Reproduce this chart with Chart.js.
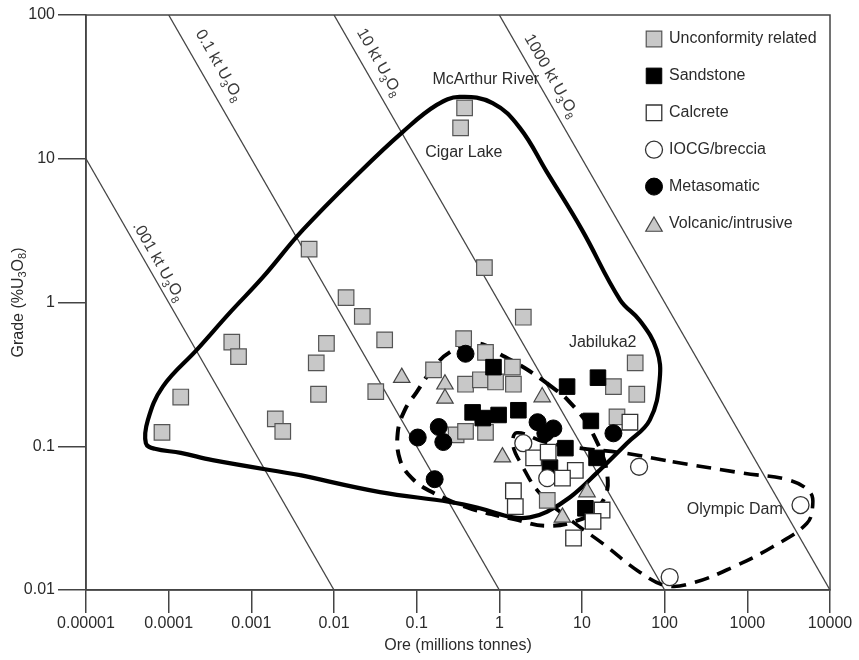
<!DOCTYPE html>
<html><head><meta charset="utf-8">
<script src="https://cdn.jsdelivr.net/npm/chart.js@4.4.1/dist/chart.umd.min.js"></script>
<style>html,body{margin:0;padding:0;background:#fff;}#wrap{width:859px;height:660px;}</style>
</head><body><div id="wrap"><canvas id="c" width="859" height="660"></canvas></div>
<script>
// ---------- DATA ----------
const xTickValues = [0.00001, 0.0001, 0.001, 0.01, 0.1, 1, 10, 100, 1000, 10000];
const xTickLabels = ['0.00001', '0.0001', '0.001', '0.01', '0.1', '1', '10', '100', '1000', '10000'];
const yTickValues = [0.01, 0.1, 1, 10, 100];
const yTickLabels = ['0.01', '0.1', '1', '10', '100'];

const seriesNames = ['Unconformity related', 'Sandstone', 'Calcrete', 'IOCG/breccia', 'Metasomatic', 'Volcanic/intrusive'];

// [ore (Mt), grade (%U3O8)]
const unconformity = [[0.000083,0.125],[0.00014,0.22],[0.00058,0.53],[0.0007,0.42],[0.00195,0.155],[0.0024,0.127],
  [0.005,2.35],[0.0061,0.38],[0.0081,0.52],[0.0065,0.23],[0.014,1.08],[0.022,0.8],[0.041,0.55],[0.032,0.24],
  [0.38,22.6],[0.34,16.4],[0.66,1.75],[1.95,0.79],[0.37,0.56],[0.68,0.45],[0.16,0.34],[1.44,0.355],
  [0.39,0.27],[0.59,0.29],[0.9,0.28],[1.48,0.27],[0.3,0.12],[0.39,0.127],[0.68,0.125],[3.8,0.042],
  [44,0.38],[24,0.26],[46,0.23],[26.5,0.16]];
const sandstone = [[0.85,0.355],[6.6,0.26],[15.6,0.3],[0.475,0.172],[0.63,0.157],[0.98,0.165],[1.7,0.178],
  [12.8,0.15],[6.3,0.097],[15,0.083],[11,0.037],[4.1,0.071]];
const calcrete = [[38,0.147],[2.6,0.083],[3.9,0.091],[8.3,0.068],[5.8,0.06],[1.48,0.049],[1.56,0.038],
  [17.5,0.036],[13.6,0.03],[7.9,0.023]];
const iocg = [[1.95,0.105],[3.8,0.06],[49,0.072],[4400,0.039],[115,0.0123]];
const metasomatic = [[0.39,0.44],[0.185,0.136],[0.103,0.115],[0.21,0.107],[0.165,0.059],[2.9,0.147],
  [4.5,0.133],[3.6,0.123],[24,0.123]];
const volcanic = [[0.066,0.3],[0.22,0.27],[0.22,0.215],[3.3,0.22],[1.09,0.084],[5.8,0.032],[11.5,0.048]];

// envelopes
const unconformityEnvelope = [[0.0039,0.063],[0.036,0.048],[0.25,0.041],[0.58,0.037],[1.46,0.032],[2.34,0.032],
  [3.75,0.035],[7.1,0.044],[15,0.065],[35,0.105],[66,0.152],[87,0.29],[80,0.47],[50,0.75],[29,1.04],[10,3.2],
  [3.75,8.1],[1.77,16.4],[0.83,24.4],[0.33,26.9],[0.175,23.7],[0.068,15.4],[0.0206,8.1],[0.0042,3.2],
  [0.00138,1.5],[0.00055,0.85],[0.00022,0.47],[0.000085,0.26],[0.000056,0.152],[0.000053,0.105],
  [0.000068,0.096],[0.00014,0.09],[0.00034,0.08],[0.0039,0.063]];
const sandstoneEnvelope = [[3.75,0.275],[6.7,0.21],[13.2,0.126],[20.5,0.058],[15.5,0.037],[8.2,0.03],[3.55,0.028],
  [1.54,0.031],[0.44,0.037],[0.153,0.048],[0.0875,0.06],[0.063,0.08],[0.059,0.124],[0.072,0.179],[0.1,0.238],
  [0.153,0.34],[0.25,0.45],[0.535,0.52],[1.07,0.43],[2.03,0.35],[3.75,0.275]];
const iocgEnvelope = [[125,0.078],[880,0.065],[3260,0.058],[5690,0.048],[6180,0.039],[5230,0.029],[2030,0.02],
  [665,0.0144],[219,0.0112],[106,0.0107],[50,0.0133],[17.9,0.021],[7.1,0.031],[3.09,0.047],[1.87,0.074],
  [1.46,0.102],[1.63,0.124],[3.55,0.107],[9.4,0.097],[31,0.09],[125,0.078]];

// contained-metal reference lines (ore x grade = constant)
const tonnageLines = [
  [[0.00001, 10], [0.01, 0.01]],
  [[0.0001, 100], [1, 0.01]],
  [[0.01, 100], [100, 0.01]],
  [[1, 100], [10000, 0.01]]
];
const tonnageLineNames = ['.001 kt U', '0.1 kt U', '10 kt U', '1000 kt U'];

const siteNames = ['McArthur River', 'Cigar Lake', 'Jabiluka2', 'Olympic Dam'];
const siteLabelOre = [0.687, 0.372, 17.8, 705];
const siteLabelGrade = [35.3, 11.1, 0.523, 0.036];

// ---------- STYLE ----------
const FONT = '"Liberation Sans", Arial, Helvetica, sans-serif';
const TXT = '#2b2b2b';
const styles = [
  {pointStyle:'rect', r:11, bg:'#c8c8c8', bd:'#555', bw:1.2, order:6},
  {pointStyle:'rect', r:11, bg:'#000', bd:'#000', bw:1, order:5},
  {pointStyle:'rect', r:11, bg:'#fff', bd:'#333', bw:1.3, order:3},
  {pointStyle:'circle', r:8.5, bg:'#fff', bd:'#333', bw:1.3, order:4},
  {pointStyle:'circle', r:8.5, bg:'#000', bd:'#000', bw:1, order:1},
  {pointStyle:'triangle', r:9.5, bg:'#c8c8c8', bd:'#444', bw:1.2, order:2}
];
const seriesData = [unconformity, sandstone, calcrete, iocg, metasomatic, volcanic];
const lineLabelPos = [{along:81, perp:7}, {along:29, perp:14}, {along:26, perp:11}, {along:32, perp:10}];

function pts(a){ return a.map(p => ({x:p[0], y:p[1]})); }

const datasets = [];
tonnageLines.forEach((l, i) => datasets.push({
  label: tonnageLineNames[i] + '3O8', data: pts(l), showLine: true, borderColor: '#444',
  borderWidth: 1.3, pointRadius: 0, order: 10
}));
datasets.push({label:'env1', data: pts(unconformityEnvelope), showLine:true, borderColor:'#000', borderWidth:4.2,
  pointRadius:0, tension:0.4, order:9});
datasets.push({label:'env2', data: pts(sandstoneEnvelope), showLine:true, borderColor:'#000', borderWidth:4,
  borderDash:[14,9], pointRadius:0, tension:0.4, order:9});
datasets.push({label:'env3', data: pts(iocgEnvelope), showLine:true, borderColor:'#000', borderWidth:3.6,
  borderDash:[15,9], pointRadius:0, tension:0.4, order:9});
seriesData.forEach((d, i) => {
  const s = styles[i];
  datasets.push({label: seriesNames[i], data: pts(d), showLine:false, pointStyle: s.pointStyle,
    pointRadius: s.r, pointBackgroundColor: s.bg, pointBorderColor: s.bd, pointBorderWidth: s.bw,
    pointHoverRadius: s.r, order: s.order});
});

function drawRich(ctx, parts, x, y, size, subSize, subDy) {
  let cx = x;
  parts.forEach(p => {
    ctx.font = (p.sub ? subSize : size) + 'px ' + FONT;
    ctx.fillText(p.t, cx, y + (p.sub ? subDy : 0));
    cx += ctx.measureText(p.t).width;
  });
  return cx - x;
}
function richWidth(ctx, parts, size, subSize) {
  let w = 0;
  parts.forEach(p => { ctx.font = (p.sub ? subSize : size) + 'px ' + FONT; w += ctx.measureText(p.t).width; });
  return w;
}
function marker(ctx, style, r, x, y) {
  ctx.beginPath();
  if (style === 'rect') { const s = Math.SQRT1_2 * r; ctx.rect(x - s, y - s, 2 * s, 2 * s); }
  else if (style === 'circle') { ctx.arc(x, y, r, 0, Math.PI * 2); }
  else {
    let a = 0;
    ctx.moveTo(x + Math.sin(a) * r, y - Math.cos(a) * r);
    a += 2 * Math.PI / 3; ctx.lineTo(x + Math.sin(a) * r, y - Math.cos(a) * r);
    a += 2 * Math.PI / 3; ctx.lineTo(x + Math.sin(a) * r, y - Math.cos(a) * r);
    ctx.closePath();
  }
  ctx.fill(); ctx.stroke();
}

const decor = {
  id: 'decor',
  afterDatasetsDraw(chart) {
    const {ctx, chartArea: a, scales: {x, y}} = chart;
    ctx.save();
    // frame
    ctx.strokeStyle = '#444'; ctx.lineWidth = 1.5;
    ctx.strokeRect(a.left, a.top, a.right - a.left, a.bottom - a.top);
    // tonnage line labels
    ctx.fillStyle = '#3a3a3a'; ctx.textBaseline = 'alphabetic'; ctx.textAlign = 'left';
    tonnageLines.forEach((l, i) => {
      const x0 = x.getPixelForValue(l[0][0]), y0 = y.getPixelForValue(l[0][1]);
      const x1 = x.getPixelForValue(l[1][0]), y1 = y.getPixelForValue(l[1][1]);
      const ang = Math.atan2(y1 - y0, x1 - x0);
      const ux = Math.cos(ang), uy = Math.sin(ang);
      const p = lineLabelPos[i];
      ctx.save();
      ctx.translate(x0 + ux * p.along, y0 + uy * p.along);
      ctx.rotate(ang);
      drawRich(ctx, [{t: tonnageLineNames[i]}, {t:'3', sub:true}, {t:'O'}, {t:'8', sub:true}], 0, -p.perp, 16, 11, 4);
      ctx.restore();
    });
    // site labels
    ctx.fillStyle = TXT; ctx.font = '16px ' + FONT; ctx.textAlign = 'center'; ctx.textBaseline = 'middle';
    siteNames.forEach((n, i) => {
      ctx.fillText(n, x.getPixelForValue(siteLabelOre[i]), y.getPixelForValue(siteLabelGrade[i]));
    });
    // legend
    const lx = a.right - 176, tx = a.right - 161;
    seriesNames.forEach((n, i) => {
      const ly = a.top + 24 + i * 36.9;
      const s = styles[i];
      ctx.fillStyle = s.bg; ctx.strokeStyle = s.bd; ctx.lineWidth = s.bw;
      marker(ctx, s.pointStyle, s.r, lx, ly + (s.pointStyle === 'triangle' ? 3 : 0));
      ctx.fillStyle = TXT; ctx.font = '16px ' + FONT; ctx.textAlign = 'left'; ctx.textBaseline = 'middle';
      ctx.fillText(n, tx, ly);
    });
    // axis titles
    ctx.fillStyle = TXT; ctx.textAlign = 'center'; ctx.textBaseline = 'middle'; ctx.font = '16px ' + FONT;
    ctx.fillText('Ore (millions tonnes)', (a.left + a.right) / 2, a.bottom + 56);
    const parts = [{t:'Grade (%U'}, {t:'3', sub:true}, {t:'O'}, {t:'8', sub:true}, {t:')'}];
    ctx.save();
    ctx.translate(19, (a.top + a.bottom) / 2 + 0);
    ctx.rotate(-Math.PI / 2);
    ctx.textAlign = 'left';
    const w = richWidth(ctx, parts, 16, 11);
    drawRich(ctx, parts, -w / 2, 0, 16, 11, 4);
    ctx.restore();
    ctx.restore();
  }
};

new Chart(document.getElementById('c'), {
  type: 'scatter',
  data: {datasets},
  options: {
    responsive: false, animation: false, devicePixelRatio: 1,
    layout: {padding: {top: 15, right: 29, left: 0, bottom: 0}},
    plugins: {legend: {display: false}, tooltip: {enabled: false}},
    scales: {
      x: {
        type: 'logarithmic', min: 0.00001, max: 10000, position: 'bottom',
        afterBuildTicks: s => { s.ticks = xTickValues.map(v => ({value: v})); },
        afterFit: s => { s.height = 70; },
        ticks: {autoSkip: false, maxRotation: 0, minRotation: 0, padding: 1, color: TXT,
          font: {family: FONT, size: 16}, callback: (v, i) => xTickLabels[i]},
        grid: {drawOnChartArea: false, drawTicks: true, tickLength: 23, color: '#444', lineWidth: 1.5},
        border: {display: true, color: '#444', width: 1.5},
        title: {display: false}
      },
      y: {
        type: 'logarithmic', min: 0.01, max: 100, position: 'left',
        afterBuildTicks: s => { s.ticks = yTickValues.map(v => ({value: v})); },
        afterFit: s => { s.width = 86; },
        ticks: {autoSkip: false, padding: 3, color: TXT, font: {family: FONT, size: 16},
          callback: (v, i) => yTickLabels[i]},
        grid: {drawOnChartArea: false, drawTicks: true, tickLength: 28, color: '#444', lineWidth: 1.5},
        border: {display: true, color: '#444', width: 1.5},
        title: {display: false}
      }
    }
  },
  plugins: [decor]
});
</script></body></html>
